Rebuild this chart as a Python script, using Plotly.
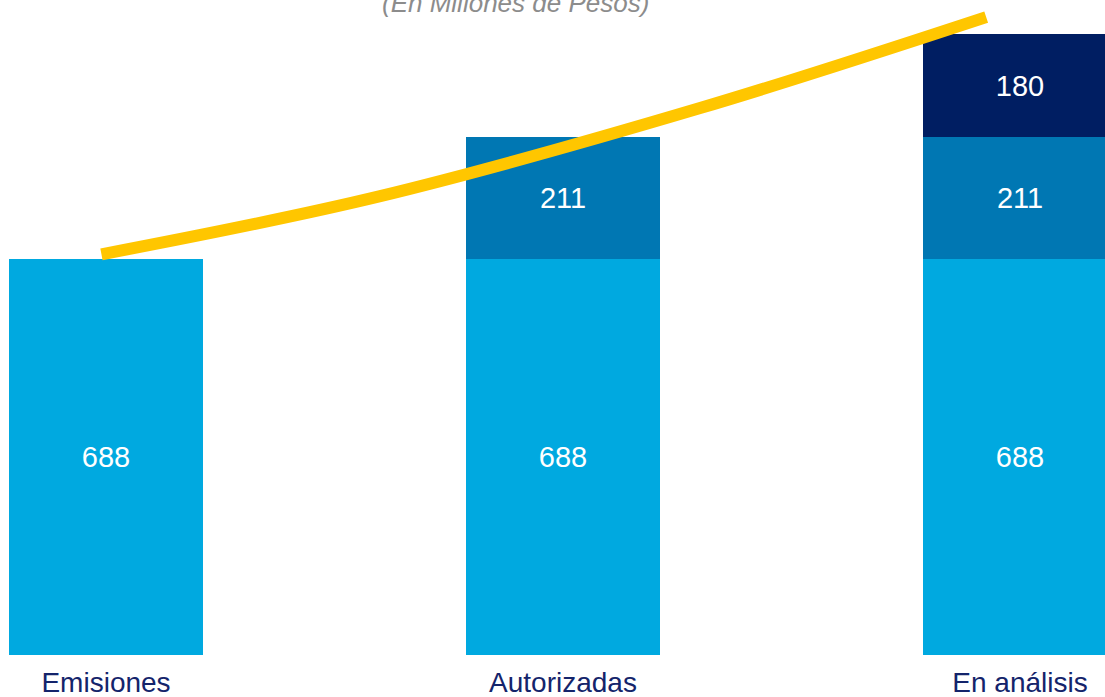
import plotly.graph_objects as go

# Data (millions of pesos)
categories = ["Emisiones", "Autorizadas", "En análisis"]
base_vals = [688, 688, 688]
autoriz_vals = [None, 211, 211]
analisis_vals = [None, None, 180]

# yellow growth curve (category position, value)
curve_x = [-0.01, 0.6, 1.3, 1.926]
curve_y = [696, 797, 950, 1108]

pos = list(range(len(categories)))
bar_w = 0.4245
label_font = dict(family="Liberation Sans, Arial", size=29, color="white")

fig = go.Figure()
for vals, color in [(base_vals, "#00A9E0"), (autoriz_vals, "#0077B3"), (analisis_vals, "#001E62")]:
    fig.add_trace(go.Bar(
        x=pos, y=vals, width=bar_w,
        marker=dict(color=color, line_width=0),
        text=[str(v) if v is not None else "" for v in vals],
        textposition="inside", insidetextanchor="middle",
        textfont=label_font, constraintext="none",
        showlegend=False, hoverinfo="skip",
    ))

fig.add_trace(go.Scatter(
    x=curve_x, y=curve_y, mode="lines",
    line=dict(color="#FFC600", width=12, shape="spline", smoothing=1),
    showlegend=False, hoverinfo="skip",
))

fig.add_annotation(
    text="<i>(En Millones de Pesos)</i>",
    xref="paper", yref="paper", x=515 / 1105, y=1,
    xanchor="center", yanchor="middle", yshift=-3,
    showarrow=False,
    font=dict(family="Liberation Sans, Arial", size=26, color="#8c8c8c"),
)

fig.update_layout(
    barmode="stack",
    width=1105, height=697,
    margin=dict(l=0, r=0, t=0, b=42),
    plot_bgcolor="white", paper_bgcolor="white",
    bargap=0,
)
fig.update_xaxes(
    range=[-0.232, 2.186], tickvals=pos, ticktext=categories,
    showgrid=False, zeroline=False, showline=False, ticks="",
    ticklabelstandoff=8,
    tickfont=dict(family="Liberation Sans, Arial", size=28, color="#14246b"),
    automargin=False,
)
fig.update_yaxes(
    range=[0, 1137.7], visible=False, showgrid=False, zeroline=False,
    automargin=False,
)

# drop the default page margin so the figure sits at the window corner
fig.write_html("out.html", config={"displayModeBar": False},
               post_script="document.body.style.margin='0';")
